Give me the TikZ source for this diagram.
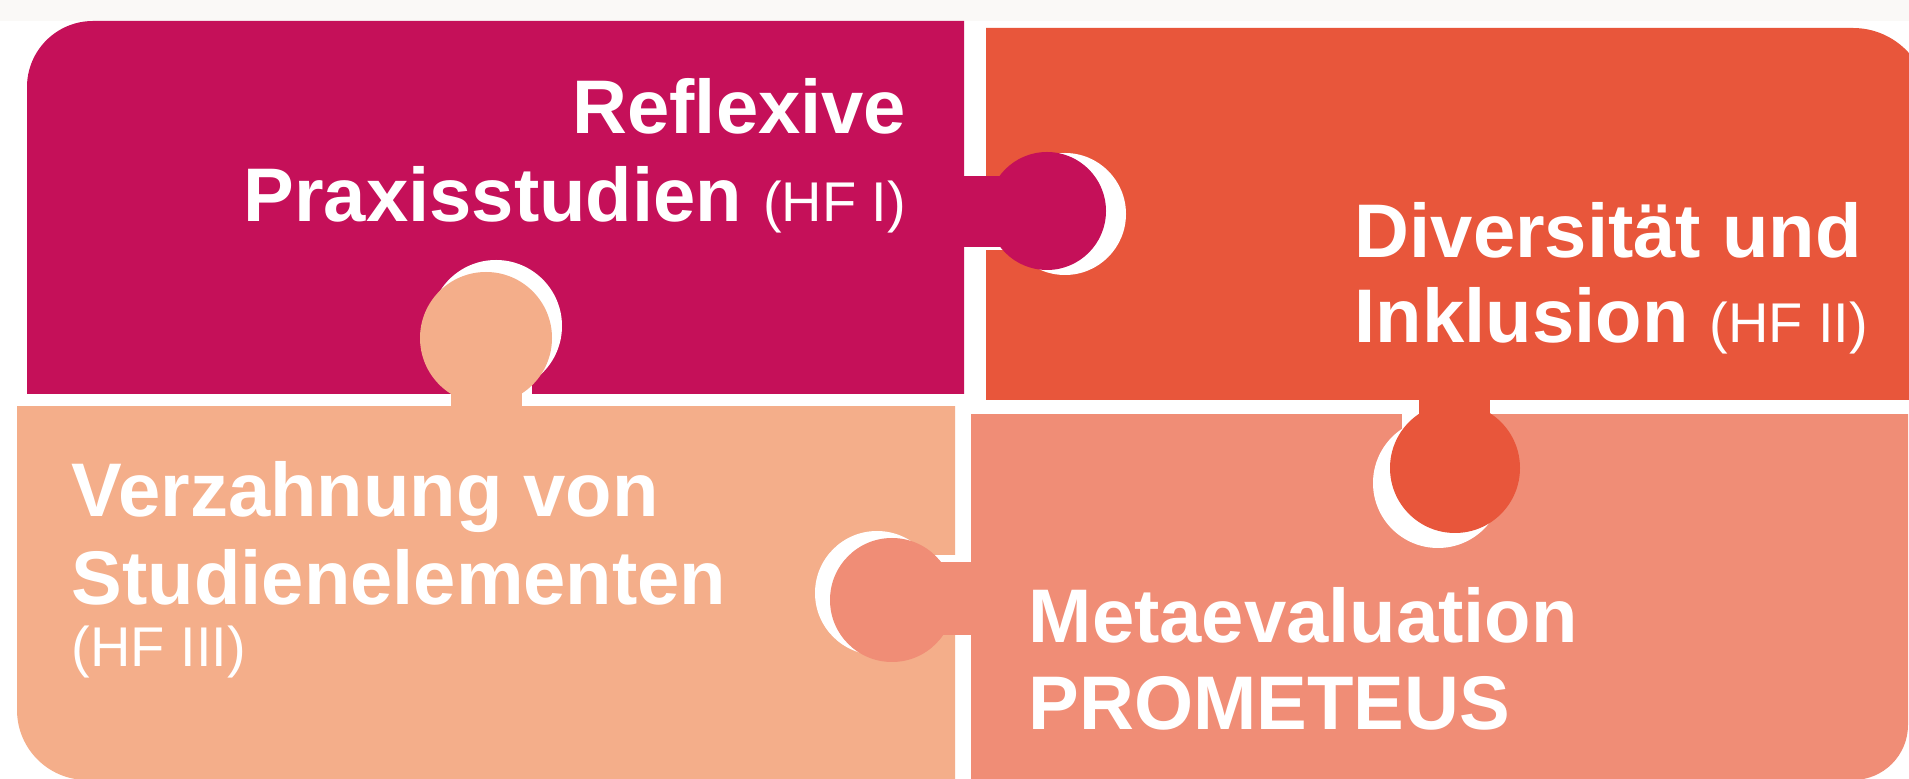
\documentclass[tikz,border=0pt]{standalone}
\usepackage{fontspec}
\setmainfont{Liberation Sans}
\definecolor{pinkc}{RGB}{197,16,89}
\definecolor{orangec}{RGB}{232,86,59}
\definecolor{peachc}{RGB}{244,174,138}
\definecolor{salmonc}{RGB}{240,141,118}
\definecolor{bgtop}{RGB}{250,249,247}
\tikzset{
  bigtext/.style={text=white, inner sep=0pt, font=\fontsize{19}{22}\selectfont\bfseries},
  hftext/.style={text=white, inner sep=0pt, font=\fontsize{14}{16}\selectfont\mdseries},
}
\newcommand{\hf}[1]{{\fontsize{14}{16}\selectfont\mdseries #1}}
\begin{document}
\begin{tikzpicture}[x=0.25pt,y=-0.25pt]
\useasboundingbox (0,0) rectangle (1909,779);
\fill[white] (0,0) rectangle (1909,779);
\fill[bgtop] (0,0) rectangle (1909,21);
% pink piece
\begin{scope}
\clip (0,0) rectangle (964,394);
\fill[pinkc, rounded corners=16.5pt] (27,21) rectangle (1200,700);
\end{scope}
% orange piece
\begin{scope}
\clip (986,0) rectangle (1909,400);
\fill[orangec, rounded corners=18.75pt] (800,28) rectangle (1928,700);
\end{scope}
% peach piece
\begin{scope}
\clip (0,407) rectangle (955,779);
\fill[peachc, rounded corners=17.5pt] (17,100) rectangle (1200,780);
\end{scope}
% salmon piece
\begin{scope}
\clip (971,415) rectangle (1909,779);
\fill[salmonc, rounded corners=13.75pt] (700,100) rectangle (1908,780);
\end{scope}
% shadows
\fill[white] (978,180) rectangle (1030,250);
\fill[white] (1065,214) circle[radius=15.25pt];
\fill[white] (461,348) rectangle (532,398);
\fill[white] (496,326) circle[radius=16.5pt];
\fill[white] (905,555) rectangle (960,628);
\fill[white] (877,593) circle[radius=15.5pt];
\fill[white] (1402,410) rectangle (1473,455);
\fill[white] (1438,483) circle[radius=16.25pt];
% tabs
\fill[pinkc] (960,176) rectangle (1012,247);
\fill[pinkc] (1047,211) circle[radius=14.75pt];
\fill[peachc] (451,360) rectangle (522,410);
\fill[peachc] (486,338) circle[radius=16.5pt];
\fill[salmonc] (920,562) rectangle (975,635);
\fill[salmonc] (892,600) circle[radius=15.5pt];
\fill[orangec] (1419,395) rectangle (1490,440);
\fill[orangec] (1455,468) circle[radius=16.25pt];
% texts
\node[bigtext, anchor=base east] (t1a) at (907,134) {Reflexive};
\node[bigtext, anchor=base east] (t1b) at (907,222) {Praxisstudien \hf{(HF I)}};
\node[bigtext, anchor=base west] (t2a) at (1354,258) {Diversität und};
\node[bigtext, anchor=base west] (t2b) at (1354,343) {Inklusion \hf{(HF II)}};
\node[bigtext, anchor=base west] (t3a) at (71,517) {Verzahnung von};
\node[bigtext, anchor=base west] (t3b) at (71,605) {Studienelementen};
\node[hftext, anchor=base west] (t3c) at (71,667) {(HF III)};
\node[bigtext, anchor=base west] (t4a) at (1028,643) {Metaevaluation};
\node[bigtext, anchor=base west] (t4b) at (1028,730) {PROMETEUS};
\end{tikzpicture}
\end{document}
